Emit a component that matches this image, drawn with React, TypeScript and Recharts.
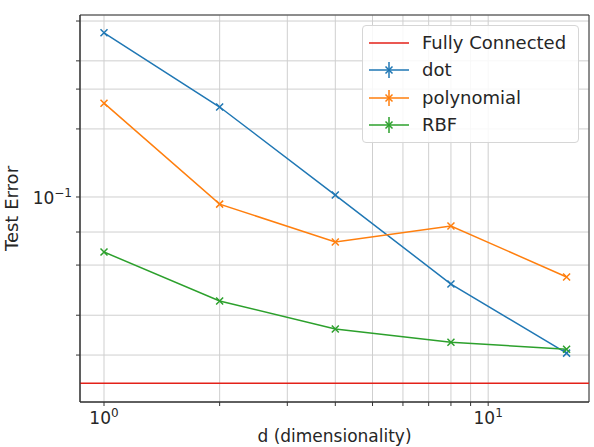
import React from 'react';
import { LineChart, Line, XAxis, YAxis, CartesianGrid, ReferenceLine, ReferenceArea } from 'recharts';

// d (dimensionality) on the x axis, test error per kernel
const dims = [1, 2, 4, 8, 16];
const dotErr = [0.532, 0.25, 0.102, 0.0412, 0.0204];
const polyErr = [0.26, 0.093, 0.0632, 0.0744, 0.0443];
const rbfErr = [0.0571, 0.0347, 0.0261, 0.0228, 0.0212];
const fullyConnected = 0.015;

const xDomain = [0.866, 18.3];
const yDomain = [0.0124, 0.638];
const xTicks = [0.9, 1, 2, 3, 4, 5, 6, 7, 8, 9, 10];
const yTicks = [0.02, 0.03, 0.04, 0.05, 0.06, 0.07, 0.08, 0.09, 0.1, 0.2, 0.3, 0.4, 0.5, 0.6];
const xLabeled = [1, 10];
const yLabeled = [0.1];

const data = dims.map((d, i) => ({ d, dot: dotErr[i], polynomial: polyErr[i], rbf: rbfErr[i] }));

const series = [
  { key: 'dot', name: 'dot', color: '#1f77b4' },
  { key: 'polynomial', name: 'polynomial', color: '#ff7f0e' },
  { key: 'rbf', name: 'RBF', color: '#2ca02c' },
];

const FONT = '"DejaVu Sans", sans-serif';
const TEXT = '#262626';

const sup = (v: number) => {
  const e = Math.round(Math.log10(v));
  return e < 0 ? '\u2212' + Math.abs(e) : String(e);
};

const XMarker = (props: any) => {
  const { cx, cy, stroke, key } = props;
  if (cx == null || cy == null) return <g key={key} />;
  const r = 3.5;
  return (
    <path
      key={key}
      d={`M${cx - r},${cy - r}L${cx + r},${cy + r}M${cx - r},${cy + r}L${cx + r},${cy - r}`}
      stroke={stroke}
      strokeWidth={1.5}
      fill="none"
    />
  );
};

const XTick = (props: any) => {
  const { x, y, payload } = props;
  if (!xLabeled.includes(payload.value)) return <g />;
  return (
    <text x={x} y={y + 16} textAnchor="middle" fontSize={17} fontFamily={FONT} fill={TEXT}>
      <tspan>10</tspan>
      <tspan dy={-7} fontSize={12}>{sup(payload.value)}</tspan>
    </text>
  );
};

const YTick = (props: any) => {
  const { x, y, payload } = props;
  if (!yLabeled.some((v) => Math.abs(v - payload.value) < 1e-9)) return <g />;
  return (
    <text x={x} y={y + 7} textAnchor="end" fontSize={17} fontFamily={FONT} fill={TEXT}>
      <tspan>10</tspan>
      <tspan dy={-7} fontSize={12}>{sup(payload.value)}</tspan>
    </text>
  );
};

const YLabel = (props: any) => {
  const { viewBox } = props;
  const cy = viewBox.y + viewBox.height / 2;
  return (
    <text x={18} y={cy} transform={`rotate(-90, 18, ${cy})`} textAnchor="middle" fontSize={18} fontFamily={FONT} fill={TEXT}>
      Test Error
    </text>
  );
};

const XLabel = (props: any) => {
  const { viewBox } = props;
  const cx = viewBox.x + viewBox.width / 2;
  return (
    <text x={cx} y={442} textAnchor="middle" fontSize={17} fontFamily={FONT} fill={TEXT}>
      d (dimensionality)
    </text>
  );
};

const LegendIcon = ({ color, bar }: { color: string; bar: boolean }) => (
  <svg width={40} height={20} style={{ display: 'block' }}>
    <line x1={0} y1={10} x2={40} y2={10} stroke={color} strokeWidth={1.5} />
    {bar && <line x1={20} y1={2} x2={20} y2={18} stroke={color} strokeWidth={1.5} />}
    {bar && <path d="M16.5,6.5L23.5,13.5M16.5,13.5L23.5,6.5" stroke={color} strokeWidth={1.5} />}
  </svg>
);

const legendItems = [
  { name: 'Fully Connected', color: '#e32119', bar: false },
  ...series.map((s) => ({ name: s.name, color: s.color, bar: true })),
];

export default function App() {
  return (
    <div style={{ position: 'absolute', left: 0, top: 0, width: 594, height: 447, background: '#fff', overflow: 'hidden' }}>
      <LineChart width={594} height={447} data={data} margin={{ top: 15, right: 5, left: 0, bottom: 0 }}>
        <CartesianGrid stroke="#cfcfcf" strokeWidth={1} />
        <XAxis
          dataKey="d"
          type="number"
          scale="log"
          domain={xDomain}
          allowDataOverflow
          ticks={xTicks}
          tick={<XTick />}
          tickSize={4}
          tickMargin={2}
          height={45}
          stroke="#333"
          label={<XLabel />}
        />
        <YAxis
          type="number"
          scale="log"
          domain={yDomain}
          allowDataOverflow
          ticks={yTicks}
          tick={<YTick />}
          tickSize={4}
          tickMargin={4}
          width={80}
          stroke="#333"
          label={<YLabel />}
        />
        <ReferenceLine y={fullyConnected} stroke="#e32119" strokeWidth={1.5} />
        {series.map((s) => (
          <Line
            key={s.key}
            type="linear"
            dataKey={s.key}
            name={s.name}
            stroke={s.color}
            strokeWidth={1.5}
            dot={<XMarker />}
            activeDot={false}
            isAnimationActive={false}
          />
        ))}
        <ReferenceArea x1={xDomain[0]} x2={xDomain[1]} y1={yDomain[0]} y2={yDomain[1]} fill="none" stroke="#333" strokeWidth={1} />
      </LineChart>
      <div
        style={{
          position: 'absolute',
          left: 362,
          top: 25,
          width: 215,
          padding: '3px 0',
          background: 'rgba(255,255,255,0.85)',
          border: '1px solid #d6d6d6',
          borderRadius: 4,
          fontFamily: FONT,
          fontSize: 18,
          color: TEXT,
        }}
      >
        {legendItems.map((it) => (
          <div key={it.name} style={{ display: 'flex', alignItems: 'center', height: 27.5, paddingLeft: 6 }}>
            <LegendIcon color={it.color} bar={it.bar} />
            <span style={{ marginLeft: 13, lineHeight: '20px' }}>{it.name}</span>
          </div>
        ))}
      </div>
    </div>
  );
}
